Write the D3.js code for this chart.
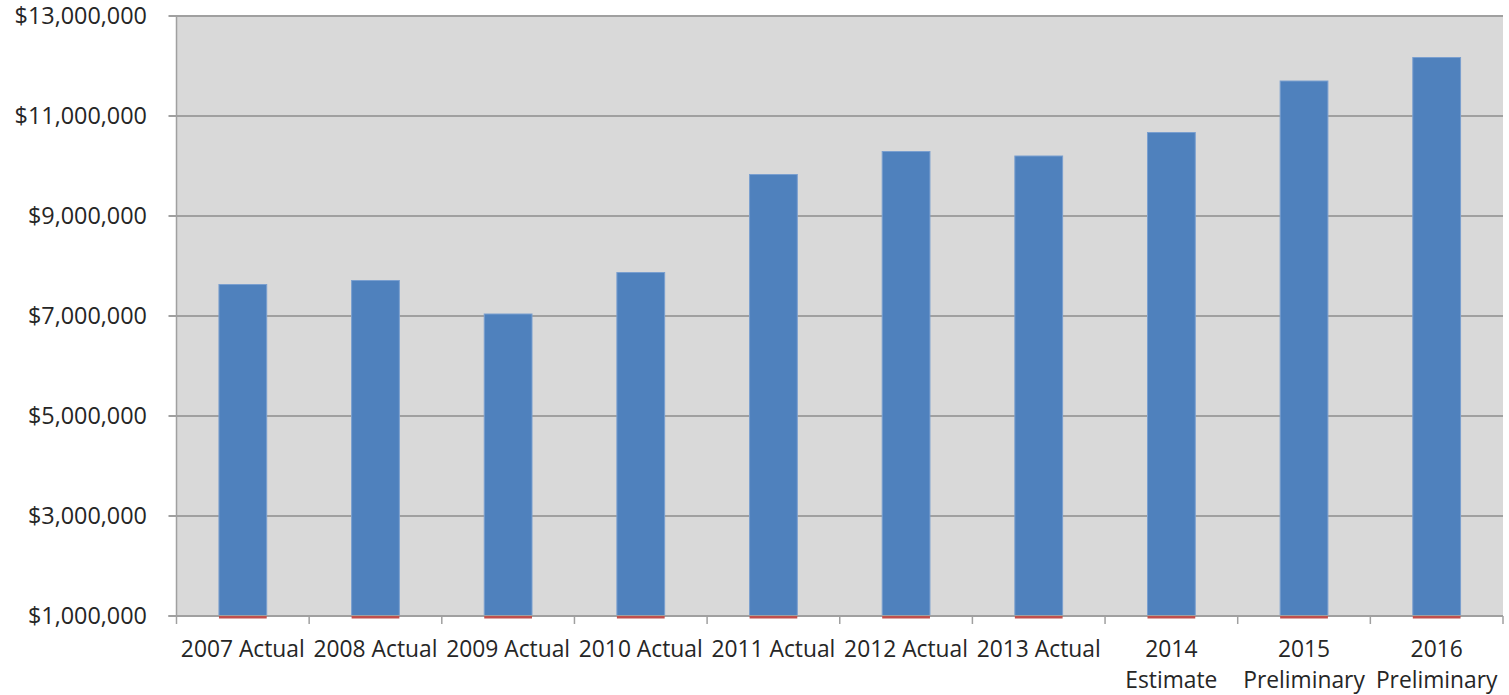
<!DOCTYPE html>
<html>
<head>
<meta charset="utf-8">
<script src="https://cdn.jsdelivr.net/npm/d3@7"></script>
<style>
  html, body { margin: 0; padding: 0; background: #ffffff; }
  svg { display: block; }
</style>
</head>
<body>
<svg id="chart" width="1509" height="695"></svg>
<script>
const categories = [
  ["2007 Actual"], ["2008 Actual"], ["2009 Actual"], ["2010 Actual"], ["2011 Actual"],
  ["2012 Actual"], ["2013 Actual"], ["2014", "Estimate"], ["2015", "Preliminary"], ["2016", "Preliminary"]
];
const seriesMain = [7630000, 7710000, 7040000, 7870000, 9830000, 10290000, 10200000, 10670000, 11700000, 12170000];
const seriesSmall = [50000, 50000, 50000, 50000, 50000, 50000, 50000, 50000, 50000, 50000];
const yTicks = [1000000, 3000000, 5000000, 7000000, 9000000, 11000000, 13000000];

(function () {
const svg = d3.select("#chart");
const pL = 176.5, pR = 1503, pT = 16, pB = 616;
const font = "'Open Sans', sans-serif";
const textColor = "#262626";

const x = d3.scaleBand().domain(d3.range(categories.length)).range([pL, pR]).paddingInner(0.64).paddingOuter(0.32);
const y = d3.scaleLinear().domain([1000000, 13000000]).range([pB, pT]);

// plot background
svg.append("rect").attr("x", pL).attr("y", pT).attr("width", pR - pL).attr("height", pB - pT)
  .attr("fill", "#d9d9d9");

// gridlines
svg.append("g").selectAll("line").data(yTicks).join("line")
  .attr("x1", pL - 8).attr("x2", pR)
  .attr("y1", d => y(d)).attr("y2", d => y(d))
  .attr("stroke", "#a0a0a0").attr("stroke-width", 2);

// y axis labels
const fmt = d3.format("$,");
svg.append("g").selectAll("text").data(yTicks).join("text")
  .attr("x", 147).attr("y", d => y(d)).attr("dy", "0.35em")
  .attr("text-anchor", "end").attr("font-family", font).attr("font-size", 23.4)
  .attr("fill", textColor).text(d => fmt(d));

// left axis line
svg.append("line").attr("x1", pL).attr("x2", pL).attr("y1", pT).attr("y2", pB)
  .attr("stroke", "#a0a0a0").attr("stroke-width", 1.5);

// bars
svg.append("g").selectAll("rect").data(seriesMain).join("rect")
  .attr("x", (d, i) => x(i)).attr("width", x.bandwidth())
  .attr("y", d => y(d)).attr("height", d => y(1000000) - y(d))
  .attr("fill", "#4f81bd").attr("stroke", "#7a9fcf").attr("stroke-width", 1);

// bottom axis line
svg.append("line").attr("x1", pL - 8).attr("x2", pR).attr("y1", pB).attr("y2", pB)
  .attr("stroke", "#a0a0a0").attr("stroke-width", 2);

// small series
svg.append("g").selectAll("rect").data(seriesSmall).join("rect")
  .attr("x", (d, i) => x(i)).attr("width", x.bandwidth())
  .attr("y", pB).attr("height", d => y(1000000 - d) - y(1000000))
  .attr("fill", "#c0504d");

// x ticks at band boundaries
const step = x.step();
const bounds = d3.range(categories.length + 1).map(i => pL + i * step);
svg.append("g").selectAll("line").data(bounds).join("line")
  .attr("x1", d => d).attr("x2", d => d).attr("y1", pB).attr("y2", pB + 8)
  .attr("stroke", "#a0a0a0").attr("stroke-width", 1.5);

// x labels
const xl = svg.append("g").selectAll("text").data(categories).join("text")
  .attr("x", (d, i) => x(i) + x.bandwidth() / 2).attr("y", 657)
  .attr("text-anchor", "middle").attr("font-family", font).attr("font-size", 22.8)
  .attr("fill", textColor);
xl.selectAll("tspan").data(d => d).join("tspan")
  .attr("x", function() { return d3.select(this.parentNode).attr("x"); })
  .attr("dy", (d, i) => i === 0 ? 0 : 31)
  .text(d => d);
})();
</script>
</body>
</html>
